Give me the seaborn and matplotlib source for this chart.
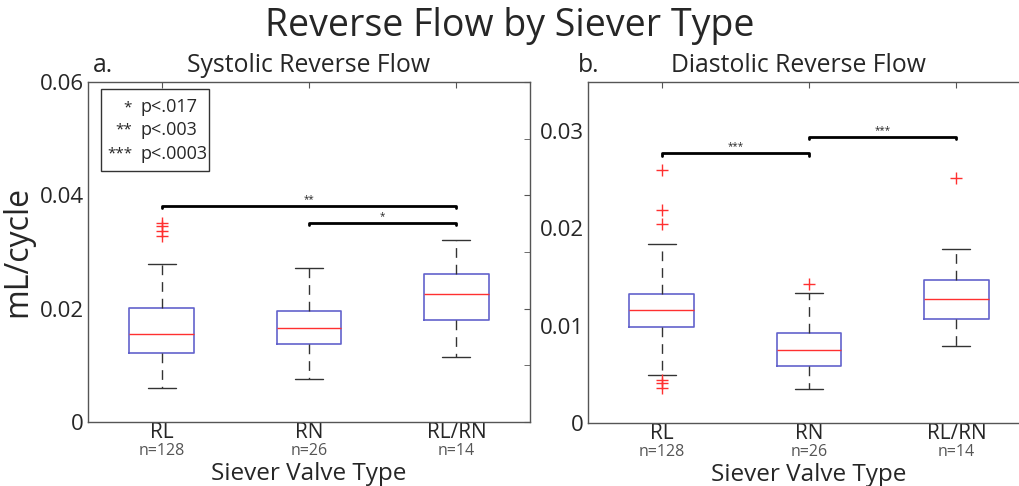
import numpy as np
import pandas as pd
import seaborn as sns
import matplotlib.pyplot as plt
from matplotlib.patches import Rectangle

# box statistics (mL/cycle)
groups = ['RL', 'RN', 'RL/RN']
n_counts = ['n=128', 'n=26', 'n=14']

sys_low = [0.0060, 0.0076, 0.0114]
sys_q1 = [0.0121, 0.0137, 0.0180]
sys_med = [0.0156, 0.0165, 0.0225]
sys_q3 = [0.0202, 0.0196, 0.0262]
sys_high = [0.0279, 0.0271, 0.0322]
sys_fliers = [[0.0352, 0.0345, 0.0337, 0.0329], [], []]

dia_low = [0.0049, 0.00345, 0.0079]
dia_q1 = [0.0099, 0.0059, 0.01066]
dia_med = [0.0116, 0.0075, 0.0127]
dia_q3 = [0.01326, 0.0092, 0.0147]
dia_high = [0.0184, 0.0133, 0.0179]
dia_fliers = [[0.0260, 0.0219, 0.0204, 0.0044, 0.0041, 0.0036], [0.01425], [0.0251]]

# significance brackets: (from group, to group, height, stars)
sys_sig = [(0, 2, 0.0382, '**'), (1, 2, 0.0352, '*')]
dia_sig = [(0, 1, 0.0277, '***'), (1, 2, 0.0294, '***')]

legend_stars = ['*', '**', '***']
legend_p = ['p<.017', 'p<.003', 'p<.0003']

sns.set_style("white")
plt.rcParams['font.family'] = ['Open Sans', 'DejaVu Sans']

BLUE = '#6262cc'
RED = '#ff3030'
GRAY = '#555555'


def make_stats(low, q1, med, q3, high, fliers):
    df = pd.DataFrame({'label': groups, 'whislo': low, 'q1': q1, 'med': med,
                       'q3': q3, 'whishi': high})
    stats = df.to_dict('records')
    for s, f in zip(stats, fliers):
        s['fliers'] = np.array(f)
    return stats


def draw_panel(ax, stats, sig, ylim, major, minor, letter, letter_x, title, title_x):
    ax.bxp(stats, positions=[1, 2, 3], widths=0.44, showfliers=True,
           boxprops=dict(color=BLUE, linewidth=1.2),
           medianprops=dict(color=RED, linewidth=1.0),
           whiskerprops=dict(color='#333333', linestyle=(0, (7, 5)), linewidth=1.0),
           capprops=dict(color='#333333', linewidth=1.0),
           capwidths=0.19,
           flierprops=dict(marker='+', markeredgecolor=RED, markersize=9,
                           linestyle='none', markeredgewidth=1.0))
    ax.set_xlim(0.5, 3.5)
    ax.set_ylim(*ylim)
    ax.set_yticks(major)
    ax.set_yticklabels(['0' if v == 0 else f'{v:g}' for v in major])
    ax.set_yticks(minor, minor=True)
    ax.set_xticks([1, 2, 3])
    ax.set_xticklabels(groups)
    ax.tick_params(axis='both', which='both', direction='in', top=True, right=True,
                   length=4, color=GRAY, pad=3)
    ax.tick_params(axis='y', labelsize=16)
    ax.tick_params(axis='x', labelsize=15, pad=0)
    for sp in ax.spines.values():
        sp.set_color(GRAY)
        sp.set_linewidth(1.0)
    for i, t in enumerate(n_counts):
        ax.text(i + 1, -0.086, t, transform=ax.get_xaxis_transform(),
                ha='center', va='center', fontsize=11.5, color=GRAY)
    ax.text(0.5, -0.152, 'Siever Valve Type', transform=ax.transAxes,
            ha='center', va='center', fontsize=17.5)
    span = ylim[1] - ylim[0]
    for a, b, h, st in sig:
        tick = span * 0.008
        ax.plot([a + 1, a + 1, b + 1, b + 1], [h - tick, h, h, h - tick],
                color='black', linewidth=2)
        ax.text((a + b) / 2 + 1, h + span * 0.002, st, ha='center', va='bottom',
                fontsize=7)
    ax.text(letter_x, 1.03, letter, transform=ax.transAxes, ha='left',
            va='baseline', fontsize=17.8)
    ax.text(title_x, 1.03, title, transform=ax.transAxes, ha='center',
            va='baseline', fontsize=17.8)


fig = plt.figure(figsize=(10.19, 4.86), dpi=100)
ax1 = fig.add_axes([0.0864, 0.1317, 0.4338, 0.6996])
ax2 = fig.add_axes([0.5770, 0.1296, 0.4338, 0.7016])

draw_panel(ax1, make_stats(sys_low, sys_q1, sys_med, sys_q3, sys_high, sys_fliers),
           sys_sig, (0, 0.06), [0, 0.02, 0.04, 0.06], [0.01, 0.03, 0.05],
           'a.', 0.011, 'Systolic Reverse Flow', 0.499)
draw_panel(ax2, make_stats(dia_low, dia_q1, dia_med, dia_q3, dia_high, dia_fliers),
           dia_sig, (0, 0.035), [0, 0.01, 0.02, 0.03], [0.005, 0.015, 0.025],
           'b.', -0.023, 'Diastolic Reverse Flow', 0.477)
ax1.set_ylabel('mL/cycle', fontsize=23, labelpad=4)

# significance key
ax1.add_patch(Rectangle((0.029, 0.738), 0.245, 0.241, transform=ax1.transAxes,
                        facecolor='white', edgecolor='#333333', linewidth=1.0))
for yy, st, p in zip([0.925, 0.858, 0.787], legend_stars, legend_p):
    ax1.text(0.0995, yy, st, transform=ax1.transAxes, ha='right', va='center',
             fontsize=11)
    ax1.text(0.118, yy, p, transform=ax1.transAxes, ha='left', va='center',
             fontsize=13)

fig.text(0.5, 1 - 36 / 486, 'Reverse Flow by Siever Type', ha='center',
         va='baseline', fontsize=27)

fig.savefig('out.png', dpi=100)
